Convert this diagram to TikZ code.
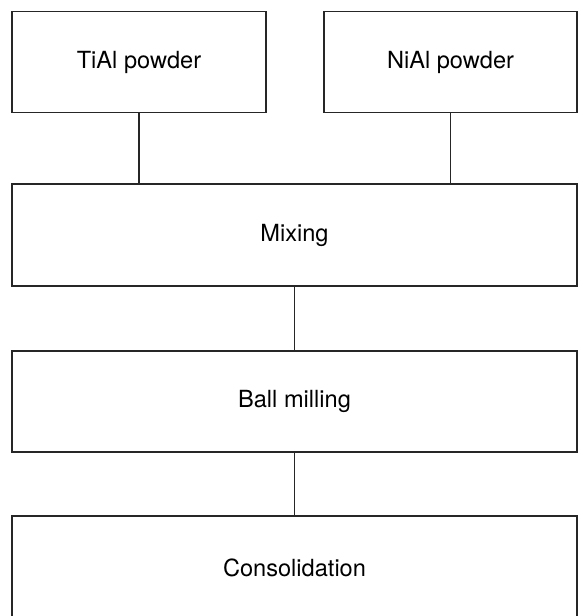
\documentclass[tikz,border=0pt]{standalone}
\usepackage{fontspec}
\setmainfont{TeX Gyre Heros}
\tikzset{
  stage/.style={draw=black!85, line width=0.8pt, minimum height=50.5pt, inner sep=0pt, font=\fontsize{11.8}{13}\selectfont},
  link/.style={draw=black!85, line width=0.8pt}
}
\begin{document}
\begin{tikzpicture}[x=0.5pt, y=-0.5pt]
            \useasboundingbox (0,0) rectangle (580,616);

            \node[stage, minimum width=127pt] (tial) at (139,62) {TiAl powder};
            \node[stage, minimum width=126.5pt] (nial) at (450.5,62) {NiAl powder};
            \node[stage, minimum width=282.5pt, minimum height=51pt] (mixing) at (294.5,235) {Mixing};
            \node[stage, minimum width=282.5pt] (milling) at (294.5,401.5) {Ball milling};
            \node[stage, minimum width=282.5pt, minimum height=52pt] (consol) at (294.5,568) {Consolidation};

            \draw[link] (tial.south) -- (tial.south |- mixing.north);
            \draw[link] (nial.south) -- (nial.south |- mixing.north);
            \draw[link] (mixing.south) -- (milling.north);
            \draw[link] (milling.south) -- (consol.north);

        \end{tikzpicture}
\end{document}
